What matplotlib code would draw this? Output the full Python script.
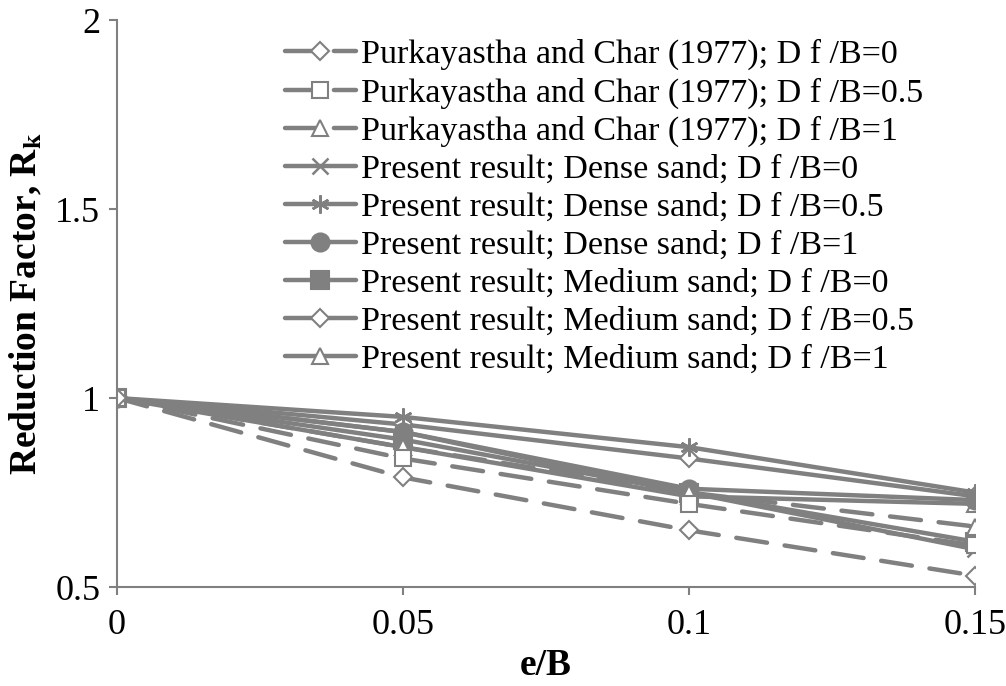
import matplotlib
matplotlib.use("Agg")
import matplotlib.pyplot as plt

# -----------------------------
# Data
# -----------------------------

e_over_b = [0, 0.05, 0.1, 0.15]

purk_0 = [1.0, 0.79, 0.65, 0.53]
purk_05 = [1.0, 0.84, 0.72, 0.61]
purk_1 = [1.0, 0.87, 0.75, 0.66]
dense_0 = [1.0, 0.91, 0.75, 0.60]
dense_05 = [1.0, 0.95, 0.87, 0.75]
dense_1 = [1.0, 0.91, 0.76, 0.73]
medium_0 = [1.0, 0.89, 0.75, 0.62]
medium_05 = [1.0, 0.93, 0.84, 0.74]
medium_1 = [1.0, 0.87, 0.74, 0.72]

labels = [
    "Purkayastha and Char (1977); D f /B=0",
    "Purkayastha and Char (1977); D f /B=0.5",
    "Purkayastha and Char (1977); D f /B=1",
    "Present result; Dense sand; D f /B=0",
    "Present result; Dense sand; D f /B=0.5",
    "Present result; Dense sand; D f /B=1",
    "Present result; Medium sand; D f /B=0",
    "Present result; Medium sand; D f /B=0.5",
    "Present result; Medium sand; D f /B=1",
]

series = [purk_0, purk_05, purk_1, dense_0, dense_05, dense_1,
          medium_0, medium_05, medium_1]

# -----------------------------
# Styles
# -----------------------------

grey = "#808080"
dashed = (0, (7, 4))
styles = [
    dict(ls=dashed, marker="D", mfc="white", ms=9),
    dict(ls=dashed, marker="s", mfc="white", ms=11),
    dict(ls=dashed, marker="^", mfc="white", ms=11),
    dict(ls="-", marker="x", mfc="none", ms=12, mew=1.8),
    dict(ls="-", marker=(6, 2, 0), mfc="none", ms=13, mew=1.8),
    dict(ls="-", marker="o", mfc=grey, ms=13),
    dict(ls="-", marker="s", mfc=grey, ms=13),
    dict(ls="-", marker="D", mfc="white", ms=9),
    dict(ls="-", marker="^", mfc="white", ms=11),
]

plt.rcParams["font.family"] = ["Liberation Serif", "DejaVu Serif"]
plt.rcParams["mathtext.fontset"] = "stix"

fig = plt.figure(figsize=(10.06, 6.86), dpi=100)
ax = fig.add_axes([0.1163, 0.1443, 0.8529, 0.8265])

# draw in reverse so earlier series sit on top, like the original
for vals, lab, st in reversed(list(zip(series, labels, styles))):
    kw = dict(st)
    kw.setdefault("mew", 1.5)
    ax.plot(e_over_b, vals, color=grey, lw=3.2, mec=grey,
            dash_capstyle="round", solid_capstyle="round",
            label=lab, **kw)

ax.set_xlim(0, 0.15)
ax.set_ylim(0.5, 2)
ax.set_xticks(e_over_b)
ax.set_xticklabels(["0", "0.05", "0.1", "0.15"])
ax.set_yticks([0.5, 1, 1.5, 2])
ax.set_yticklabels(["0.5", "1", "1.5", "2"])

for side in ["top", "right"]:
    ax.spines[side].set_visible(False)
for side in ["left", "bottom"]:
    ax.spines[side].set_color(grey)
    ax.spines[side].set_linewidth(1.5)

ax.tick_params(axis="both", colors=grey, width=1.5, length=6,
               labelsize=26, labelcolor="black", pad=6)
ax.tick_params(axis="x", pad=10)

ax.set_xlabel("e/B", fontsize=27, fontweight="bold", labelpad=4)
ax.set_ylabel(r"Reduction Factor, R$_\mathbf{k}$", fontsize=27,
              fontweight="bold", labelpad=8)

handles, labs = ax.get_legend_handles_labels()
leg = ax.legend(handles[::-1], labs[::-1], loc="upper left",
                bbox_to_anchor=(0.266, 0.968), bbox_transform=fig.transFigure,
                frameon=False, fontsize=24.5, handlelength=2.1,
                handletextpad=0.15, labelspacing=0.21, borderpad=0)

fig.savefig("out.png", dpi=100)
